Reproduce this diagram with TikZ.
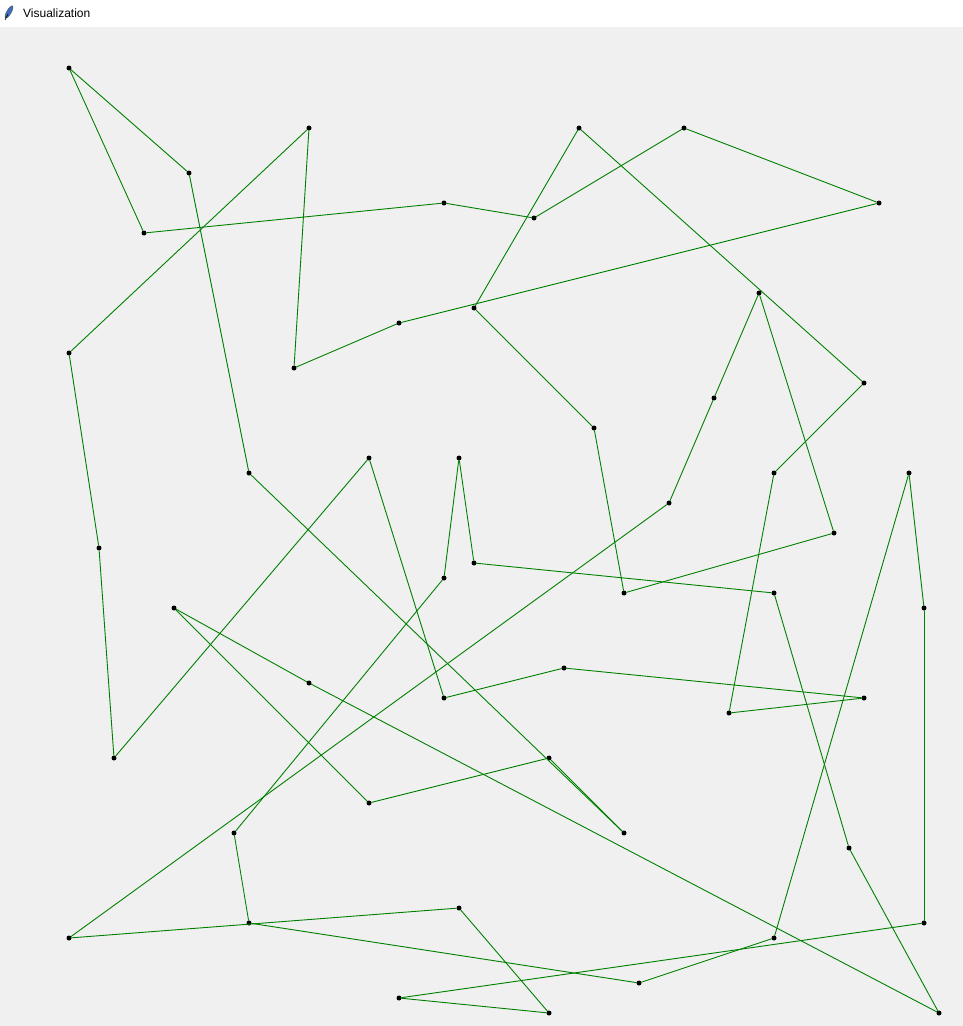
\documentclass[tikz,border=0pt]{standalone}
\usepackage{fontspec}
\usepackage{xcolor}
\usepackage{tikz}
\newfontfamily\uifont{Liberation Sans}
\definecolor{route}{HTML}{008000}
\definecolor{canvasbg}{HTML}{F0F0F0}
\definecolor{quill}{HTML}{3A6FC4}
\tikzset{
  edge/.style={draw=route, line width=0.9pt, line cap=round, line join=round},
  dot/.style={circle, fill=black, inner sep=0pt, minimum size=5pt},
  lab/.style={text=black, font=\uifont\fontsize{12}{14}\selectfont, inner sep=0pt},
}

\begin{document}
\begin{tikzpicture}[x=1pt, y=-1pt]
  \useasboundingbox (0,0) rectangle (963,1026);
  % window frame
  \fill[white] (0,0) rectangle (963,27);
  \fill[canvasbg] (0,27) rectangle (963,1026);
  \filldraw[fill=quill, draw=black!70, line width=0.4pt, rotate around={60:(9,12)}] (9,12) ellipse (7 and 2.2);
  \draw[black, line width=0.6pt] (5,20) -- (8,14);
  \node[lab, anchor=west] (title) at (23,13) {Visualization};
  % cities
  \foreach \i/\x/\y in {1/69/68, 2/189/173, 3/144/233, 4/309/128, 5/444/203,
      6/534/218, 7/579/128, 8/684/128, 9/879/203, 10/399/323, 11/474/308,
      12/294/368, 13/69/353, 14/759/293, 15/864/383, 16/714/398, 17/594/428,
      18/249/473, 19/369/458, 20/459/458, 21/774/473, 22/909/473, 23/669/503,
      24/99/548, 25/834/533, 26/474/563, 27/444/578, 28/624/593, 29/774/593,
      30/174/608, 31/924/608, 32/309/683, 33/564/668, 34/444/698, 35/864/698,
      36/729/713, 37/114/758, 38/549/758, 39/369/803, 40/624/833, 41/234/833,
      42/849/848, 43/69/938, 44/249/923, 45/459/908, 46/774/938, 47/924/923,
      48/639/983, 49/399/998, 50/549/1013, 51/939/1013}
    \node[dot] (p\i) at (\x,\y) {};
  % tour
  \foreach \b [remember=\b as \a (initially 1)] in {3,5,6,8,9,10,12,4,13,24,
      37,19,34,33,35,36,21,15,7,11,17,28,25,14,16,23,43,45,50,49,47,31,22,46,
      48,44,41,27,20,26,29,42,51,32,30,39,38,40,18,2,1}
    \draw[edge] (p\a) -- (p\b);
\end{tikzpicture}
\end{document}
